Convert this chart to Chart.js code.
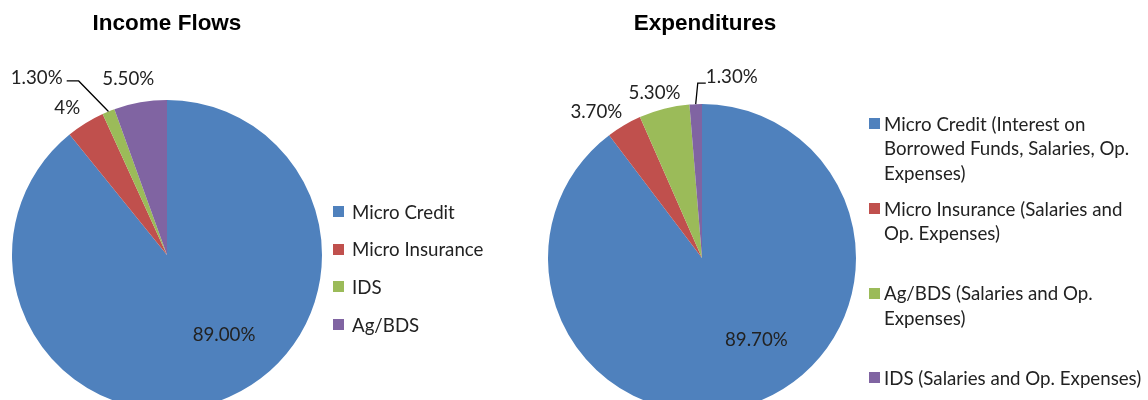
<!DOCTYPE html>
<html>
<head>
<meta charset="utf-8">
<script src="https://cdn.jsdelivr.net/npm/chart.js@4.4.0/dist/chart.umd.min.js"></script>
<style>
  html, body { margin:0; padding:0; width:1148px; height:400px; overflow:hidden; background:#fff; }
  .wrap { position:absolute; top:0; }
  .title { position:absolute; font-family:"Liberation Sans", Arial, sans-serif; font-weight:bold; font-size:22.5px; color:#000; white-space:nowrap; transform:translateX(-50%); }
  .leg { position:absolute; font-family:Lato, "Noto Sans", sans-serif; font-size:18.7px; color:#222; white-space:nowrap; }
  .leg .sw { position:absolute; width:11px; height:11px; }
  .leg .tx { position:absolute; line-height:24.5px; }
</style>
</head>
<body>
<canvas id="c1" class="wrap" style="left:0px"></canvas>
<canvas id="c2" class="wrap" style="left:540px"></canvas>
<div id="t1" class="title" style="left:167px; top:10px">Income Flows</div>
<div id="t2" class="title" style="left:705px; top:10px">Expenditures</div>
<div id="leg1"></div>
<div id="leg2"></div>
<script>
// ---- data ----
const incomeCategories = ["Micro Credit", "Micro Insurance", "IDS", "Ag/BDS"];
const incomeValues = [89.0, 4, 1.3, 5.5];
const incomeValueLabels = ["89.00%", "4%", "1.30%", "5.50%"];

const expenseCategories = [
  ["Micro Credit (Interest on", "Borrowed Funds, Salaries, Op.", "Expenses)"],
  ["Micro Insurance (Salaries and", "Op. Expenses)"],
  ["Ag/BDS (Salaries and Op.", "Expenses)"],
  ["IDS (Salaries and Op. Expenses)"]
];
const expenseValues = [89.7, 3.7, 5.3, 1.3];
const expenseValueLabels = ["89.70%", "3.70%", "5.30%", "1.30%"];

const incomeColors = ["#4F81BD", "#C0504D", "#9BBB59", "#8064A2"];
const expenseColors = ["#4F81BD", "#C0504D", "#9BBB59", "#8064A2"];

// ---- label placement (style) ----
const incomeLabelPos = [
  { f: 0.6, dx: 26, dy: -8 },
  { f: 1.15, dx: -6, dy: 5 },
  { f: 1.15, dx: -63, dy: -12, leader: { elbow: [42, 3], end: [30, 3] } },
  { f: 1.15, dx: -8, dy: 0 }
];
const expenseLabelPos = [
  { f: 0.6, dx: 25, dy: -6 },
  { f: 1.15, dx: -16, dy: 7 },
  { f: 1.15, dx: -4, dy: 7 },
  { f: 1.15, dx: 37, dy: -4, leader: { elbow: [-34, 6], end: [-26, 6] } }
];

const labelPlugin = {
  id: 'valueLabels',
  afterDatasetsDraw(chart, args, opts) {
    const ctx = chart.ctx;
    const meta = chart.getDatasetMeta(0);
    ctx.save();
    ctx.font = '18.7px Lato, "Noto Sans", sans-serif';
    ctx.fillStyle = '#222';
    ctx.textAlign = 'center';
    ctx.textBaseline = 'middle';
    meta.data.forEach((arc, i) => {
      const p = arc.getProps(['x', 'y', 'startAngle', 'endAngle', 'outerRadius'], true);
      const mid = (p.startAngle + p.endAngle) / 2;
      const pos = opts.positions[i];
      const lx = p.x + Math.cos(mid) * p.outerRadius * pos.f + pos.dx;
      const ly = p.y + Math.sin(mid) * p.outerRadius * pos.f + pos.dy;
      if (pos.leader) {
        const ex = p.x + Math.cos(mid) * p.outerRadius;
        const ey = p.y + Math.sin(mid) * p.outerRadius;
        ctx.beginPath();
        ctx.strokeStyle = '#000';
        ctx.lineWidth = 1.3;
        ctx.moveTo(ex, ey);
        ctx.lineTo(lx + pos.leader.elbow[0], ly + pos.leader.elbow[1]);
        ctx.lineTo(lx + pos.leader.end[0], ly + pos.leader.end[1]);
        ctx.stroke();
      }
      ctx.fillText(opts.texts[i], lx, ly);
    });
    ctx.restore();
  }
};

function makePie(id, width, pad, labels, values, colors, texts, positions) {
  const cv = document.getElementById(id);
  cv.width = width; cv.height = 420;
  cv.style.width = width + 'px'; cv.style.height = '420px';
  return new Chart(cv, {
    type: 'pie',
    data: { labels: labels, datasets: [{ data: values, backgroundColor: colors, borderWidth: 0 }] },
    options: {
      responsive: false,
      animation: false,
      layout: { padding: pad },
      plugins: {
        legend: { display: false },
        tooltip: { enabled: false },
        title: { display: false },
        valueLabels: { texts: texts, positions: positions }
      }
    },
    plugins: [labelPlugin]
  });
}

makePie('c1', 340, { left: 12, right: 18, top: 100, bottom: 10 }, incomeCategories, incomeValues, incomeColors, incomeValueLabels, incomeLabelPos);
makePie('c2', 330, { left: 8, right: 14, top: 104, bottom: 8 }, expenseCategories, expenseValues, expenseColors, expenseValueLabels, expenseLabelPos);

function makeLegend(elId, labels, colors, left, firstY, step, lineH) {
  const el = document.getElementById(elId);
  labels.forEach((lab, i) => {
    const lines = Array.isArray(lab) ? lab : [lab];
    const cy = firstY + i * step;
    const item = document.createElement('div');
    item.className = 'leg';
    item.style.left = left + 'px';
    item.style.top = (cy - lineH / 2) + 'px';
    const sw = document.createElement('div');
    sw.className = 'sw';
    sw.style.background = colors[i];
    sw.style.left = '0px';
    sw.style.top = (lineH / 2 - 6) + 'px';
    const tx = document.createElement('div');
    tx.className = 'tx';
    tx.style.left = (left < 600 ? 19 : 15) + 'px';
    tx.style.top = '0px';
    tx.style.lineHeight = lineH + 'px';
    tx.innerHTML = lines.map(s => s.replace(/&/g, '&amp;')).join('<br>');
    item.appendChild(sw); item.appendChild(tx);
    el.appendChild(item);
  });
}
makeLegend('leg1', incomeCategories, incomeColors, 333, 212, 37.7, 24.5);
makeLegend('leg2', expenseCategories, expenseColors, 869, 124, 84.8, 24.5);
</script>
</body>
</html>
